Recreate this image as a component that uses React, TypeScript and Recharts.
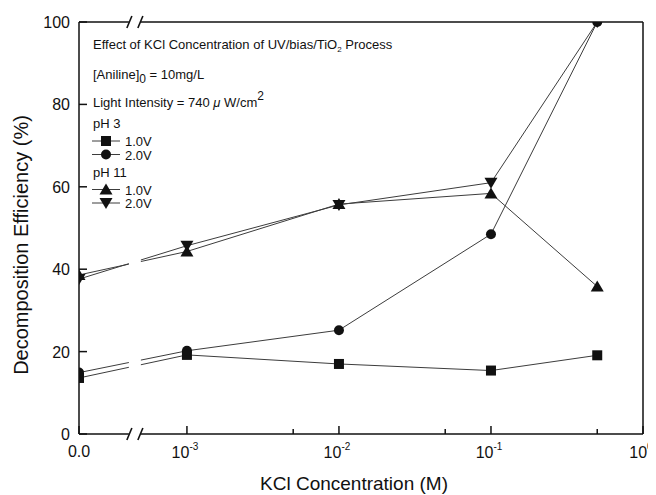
// KCl concentration vs decomposition efficiency, broken log x-axis.
import { LineChart, Line, XAxis, YAxis, ReferenceArea, ReferenceLine, ReferenceDot } from 'recharts'

const CONC = [0, 0.001, 0.01, 0.1, 0.5]
const PH3_1V = [13.6, 19.2, 17.0, 15.4, 19.1]
const PH3_2V = [14.9, 20.2, 25.2, 48.5, 100]
const PH11_1V = [38.6, 44.3, 55.8, 58.4, 35.8]
const PH11_2V = [37.6, 45.7, 55.6, 61.0, 100]

const Y_TICKS = [0, 20, 40, 60, 80, 100]
// "0.0" sits left of the axis break, so it gets its own spot on the log axis
const ZERO_POS = -3.71
const X_MAJOR = [ZERO_POS, -3, -2, -1, 0]
const X_MAJOR_LABELS = ['0.0', '-3', '-2', '-1', '0']
const X_MINOR = [0.005, 0.05, 0.5].map((v) => Math.log10(v))
const BREAK_L = -3.382
const BREAK_R = -3.303

const pos = (c: number) => (c === 0 ? ZERO_POS : Math.log10(c))

const data = CONC.map((c, i) => ({
  pos: pos(c),
  a: PH3_1V[i],
  b: PH3_2V[i],
  c: PH11_1V[i],
  d: PH11_2V[i],
}))

const INK = '#111'
const LINE = '#3c3c3c'
const FONT = '"Liberation Sans", Arial, sans-serif'

const Square = ({ cx, cy }: any) => <rect x={cx - 5} y={cy - 5} width={10} height={10} fill={INK} />
const Circle = ({ cx, cy }: any) => <circle cx={cx} cy={cy} r={5} fill={INK} />
const TriUp = ({ cx, cy }: any) => (
  <path d={`M${cx},${cy - 6} L${cx + 6.5},${cy + 5} L${cx - 6.5},${cy + 5} Z`} fill={INK} />
)
const TriDown = ({ cx, cy }: any) => (
  <path d={`M${cx},${cy + 6} L${cx + 6.5},${cy - 5} L${cx - 6.5},${cy - 5} Z`} fill={INK} />
)

const dotOf = (Shape: any) => (p: any) => <Shape key={p.index} cx={p.cx} cy={p.cy} />

function XTick({ x, y, payload }: any) {
  const i = X_MAJOR.indexOf(payload.value)
  if (i < 0) return <line x1={x} y1={y} x2={x} y2={y - 5} stroke={INK} strokeWidth={1.5} />
  const lab = X_MAJOR_LABELS[i]
  return (
    <g>
      <line x1={x} y1={y} x2={x} y2={y - 8} stroke={INK} strokeWidth={1.5} />
      {i === 0 ? (
        <text x={x} y={y + 23} textAnchor="middle" fontSize={16} fill={INK} fontFamily={FONT}>
          {lab}
        </text>
      ) : (
        <text x={x - 2} y={y + 24} textAnchor="middle" fontSize={16} fill={INK} fontFamily={FONT}>
          10
          <tspan fontSize={10} dy={-8}>
            {lab}
          </tspan>
        </text>
      )}
    </g>
  )
}

function YTick({ x, y, payload }: any) {
  return (
    <g>
      <line x1={x} y1={y} x2={x + 8} y2={y} stroke={INK} strokeWidth={1.5} />
      <text x={x - 9} y={y + 6} textAnchor="end" fontSize={16} fill={INK} fontFamily={FONT}>
        {payload.value}
      </text>
    </g>
  )
}

const BreakMark = ({ cx, cy }: any) => {
  if (cx == null) return <g />
  const l = cx - 5.5
  const r = cx + 5.5
  return (
    <g stroke={INK} strokeWidth={1.6}>
      <line x1={l - 2.5} y1={cy + 6} x2={l + 2.5} y2={cy - 6} />
      <line x1={r - 2.5} y1={cy + 6} x2={r + 2.5} y2={cy - 6} />
    </g>
  )
}

const LEGEND = [
  { name: '1.0V', Shape: Square, y: 133 },
  { name: '2.0V', Shape: Circle, y: 146.5 },
  { name: '1.0V', Shape: TriUp, y: 181.5 },
  { name: '2.0V', Shape: TriDown, y: 195 },
]

export default function App() {
  return (
    <div style={{ position: 'relative', width: 648, height: 487, fontFamily: FONT }}>
      <LineChart width={648} height={487} data={data} margin={{ top: 14, right: 13, left: 11, bottom: 11 }}>
        <XAxis
          type="number"
          dataKey="pos"
          domain={[ZERO_POS, 0]}
          ticks={[...X_MAJOR, ...X_MINOR]}
          interval={0}
          allowDataOverflow
          tick={<XTick />}
          tickLine={false}
          tickSize={0}
          tickMargin={0}
          height={50}
          axisLine={{ stroke: INK, strokeWidth: 1.5 }}
        />
        <YAxis
          type="number"
          domain={[0, 100]}
          ticks={Y_TICKS}
          interval={0}
          allowDataOverflow
          tick={<YTick />}
          tickLine={false}
          tickSize={0}
          tickMargin={0}
          width={60}
          axisLine={{ stroke: INK, strokeWidth: 1.5 }}
        />
        <ReferenceLine y={100} stroke={INK} strokeWidth={1.5} />
        <ReferenceLine x={0} stroke={INK} strokeWidth={1.5} />
        <Line dataKey="a" stroke={LINE} strokeWidth={1} dot={dotOf(Square)} isAnimationActive={false} />
        <Line dataKey="b" stroke={LINE} strokeWidth={1} dot={dotOf(Circle)} isAnimationActive={false} />
        <Line dataKey="c" stroke={LINE} strokeWidth={1} dot={dotOf(TriUp)} isAnimationActive={false} />
        <Line dataKey="d" stroke={LINE} strokeWidth={1} dot={dotOf(TriDown)} isAnimationActive={false} />
        <ReferenceArea
          x1={BREAK_L}
          x2={BREAK_R}
          y1={-1.5}
          y2={101.5}
          fill="#fff"
          fillOpacity={1}
          stroke="none"
          ifOverflow="visible"
          zIndex={2000}
        />
        <ReferenceDot x={(BREAK_L + BREAK_R) / 2} y={0} ifOverflow="visible" shape={BreakMark} zIndex={2100} />
        <ReferenceDot x={(BREAK_L + BREAK_R) / 2} y={100} ifOverflow="visible" shape={BreakMark} zIndex={2100} />
      </LineChart>
      <svg
        width={648}
        height={487}
        style={{ position: 'absolute', left: 0, top: 0, pointerEvents: 'none' }}
        fontFamily={FONT}
        fill={INK}
      >
        <text x={85} y={41} fontSize={13}>
          Effect of KCl Concentration of UV/bias/TiO
          <tspan fontSize={8} dy={3}>2</tspan>
          <tspan dy={-3}> Process</tspan>
        </text>
        <text x={85} y={71} fontSize={13}>
          [Aniline]
          <tspan fontSize={12} dy={4}>0</tspan>
          <tspan dy={-4}> = 10mg/L</tspan>
        </text>
        <text x={85} y={99} fontSize={13}>
          Light Intensity = 740 <tspan fontStyle="italic">μ</tspan> W/cm
          <tspan fontSize={12} dy={-7}>2</tspan>
        </text>
        <text x={85} y={120} fontSize={13}>pH 3</text>
        <text x={85} y={169} fontSize={13}>pH 11</text>
        {LEGEND.map(({ name, Shape, y }, i) => (
          <g key={i}>
            <line x1={84} y1={y} x2={112} y2={y} stroke={LINE} strokeWidth={1} />
            <Shape cx={98} cy={y} />
            <text x={117} y={y + 5} fontSize={13}>
              {name}
            </text>
          </g>
        ))}
        <text
          transform="translate(20,237) rotate(-90)"
          textAnchor="middle"
          fontSize={20}
        >
          Decomposition Efficiency (%)
        </text>
        <text x={346} y={482} textAnchor="middle" fontSize={19}>
          KCl Concentration (M)
        </text>
      </svg>
    </div>
  )
}
